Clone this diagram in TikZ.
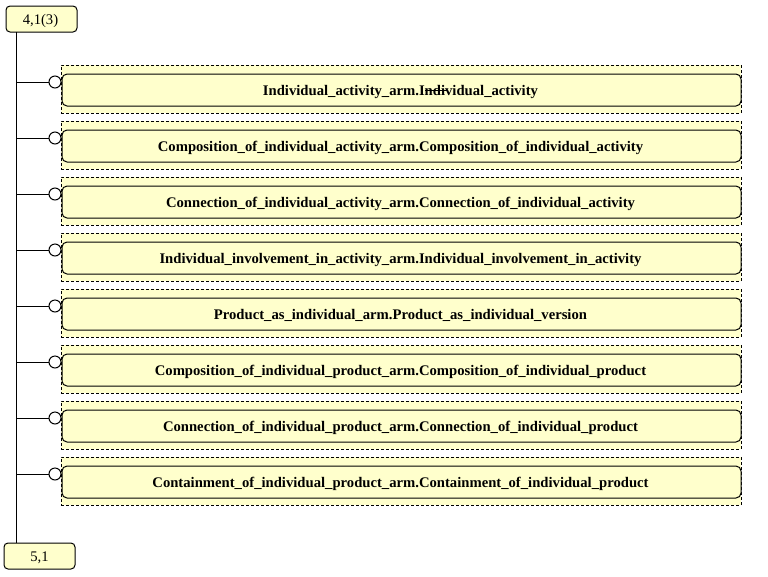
\documentclass[tikz,border=0pt]{standalone}
\usepackage{fontspec}
\setmainfont{Liberation Serif}
\begin{document}
\begin{tikzpicture}[x=0.75pt,y=-0.75pt,
  every path/.style={line width=0.75pt},
  tag/.style={draw, fill=boxfill, rounded corners=3pt, minimum width=53.25pt, minimum height=19.5pt, inner sep=0pt},
  tagtext/.style={font=\fontsize{11}{13}\selectfont, inner sep=0pt},
  outerbox/.style={draw, dashed, dash pattern=on 2.25pt off 1.5pt, fill=boxfill, minimum width=510pt, minimum height=36pt, inner sep=0pt},
  innerbox/.style={draw, fill=boxfill, rounded corners=3.75pt, minimum width=509.25pt, minimum height=24pt, inner sep=0pt},
  label/.style={font=\bfseries\fontsize{11}{13}\selectfont, inner sep=0pt},
  knob/.style={draw, fill=white, circle, minimum size=9pt, inner sep=0pt},
  wire/.style={draw, line width=0.75pt}
]
\definecolor{boxfill}{HTML}{FFFFCC}
\useasboundingbox (0,0) rectangle (768,576);
\node[tag] (top) at (41.5,19) {};
\node[tagtext] (toptext) at (40.5,21) {4,1(3)};
\node[tag] (bot) at (39.5,556) {};
\node[tagtext] (bottext) at (39.5,557.5) {5,1};
\coordinate (vt) at (16,32);
\coordinate (vb) at (16,543);
\draw[wire] (vt) -- (vb);
\foreach \i/\t in {0/Individual\_activity\_arm.Individual\_activity,
  1/Composition\_of\_individual\_activity\_arm.Composition\_of\_individual\_activity,
  2/Connection\_of\_individual\_activity\_arm.Connection\_of\_individual\_activity,
  3/Individual\_involvement\_in\_activity\_arm.Individual\_involvement\_in\_activity,
  4/Product\_as\_individual\_arm.Product\_as\_individual\_version,
  5/Composition\_of\_individual\_product\_arm.Composition\_of\_individual\_product,
  6/Connection\_of\_individual\_product\_arm.Connection\_of\_individual\_product,
  7/Containment\_of\_individual\_product\_arm.Containment\_of\_individual\_product}{
  \node[outerbox] (d\i) at (401,89+56*\i) {};
  \node[innerbox] (b\i) at (401.5,90+56*\i) {};
  \node[label] (t\i) at (400.5,91.5+56*\i) {\t};
  \node[knob] (c\i) at (55,82+56*\i) {};
  \coordinate (j\i) at (16,82+56*\i);
  \draw[wire] (j\i) -- (c\i.west);
}
\coordinate (s1) at (425,90.5);
\coordinate (s2) at (448,90.5);
\draw[line width=0.75pt] (s1) -- (s2);
\end{tikzpicture}
\end{document}
